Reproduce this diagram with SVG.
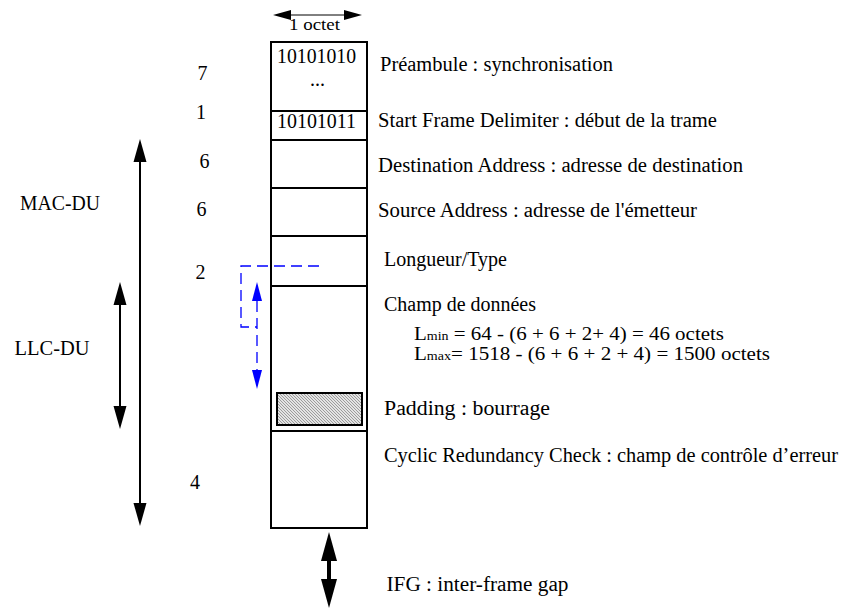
<svg xmlns="http://www.w3.org/2000/svg" width="842" height="608" viewBox="0 0 842 608">
<style>
text{font-family:"Liberation Serif","Times New Roman",serif;font-size:20px;fill:#000}
.formula{font-size:18px}
.sub{font-size:12px}
.small{font-size:16.3px}
.box{fill:#fff;stroke:#000;stroke-width:2}
.sep{stroke:#000;stroke-width:2}
.blk{stroke:#000;stroke-width:2;fill:none}
.blue{stroke:#0000ff;stroke-width:1.3;fill:none;stroke-dasharray:11 6}
</style>
<defs>
<pattern id="hatch" width="3" height="3" patternUnits="userSpaceOnUse">
<rect width="3" height="3" fill="#e4e4e4"/>
<path d="M0,0 L3,3 M-1,2 L1,4 M2,-1 L4,1" stroke="#8a8a8a" stroke-width="0.8"/>
</pattern>
<marker id="mBig" viewBox="0 -7 24 14" refX="0" refY="0" markerWidth="24" markerHeight="14" markerUnits="userSpaceOnUse" orient="auto-start-reverse">
<path d="M0,-6.5 L23,0 L0,6.5 z" fill="#000"/>
</marker>
<marker id="mSmall" viewBox="0 -6 19 12" refX="0" refY="0" markerWidth="19" markerHeight="12" markerUnits="userSpaceOnUse" orient="auto-start-reverse">
<path d="M0,-5 L18,0 L0,5 z" fill="#000"/>
</marker>
<marker id="mIfg" viewBox="0 -9 30 18" refX="0" refY="0" markerWidth="30" markerHeight="18" markerUnits="userSpaceOnUse" orient="auto-start-reverse">
<path d="M0,-8 L29,0 L0,8 z" fill="#000"/>
</marker>
<marker id="mBlue" viewBox="0 -6 20 12" refX="0" refY="0" markerWidth="20" markerHeight="12" markerUnits="userSpaceOnUse" orient="auto-start-reverse">
<path d="M0,-5 L19,0 L0,5 z" fill="#0000ff"/>
</marker>
</defs>
<rect width="842" height="608" fill="#fff"/>

<g id="frame">
<rect class="box" x="271" y="42" width="96" height="486"/>
</g>

<g id="preambule">
<text x="277" y="63" textLength="79" lengthAdjust="spacingAndGlyphs">10101010</text>
<text x="310" y="86" textLength="15" lengthAdjust="spacingAndGlyphs">...</text>
<text x="380" y="71" textLength="233" lengthAdjust="spacingAndGlyphs">Préambule : synchronisation</text>
<text x="197.5" y="80">7</text>
</g>

<g id="sfd">
<line class="sep" x1="271" y1="111" x2="367" y2="111"/>
<text x="277" y="128" textLength="79" lengthAdjust="spacingAndGlyphs">10101011</text>
<text x="378" y="127" textLength="339" lengthAdjust="spacingAndGlyphs">Start Frame Delimiter : début de la trame</text>
<text x="196" y="119">1</text>
</g>

<g id="dest">
<line class="sep" x1="271" y1="140" x2="367" y2="140"/>
<text x="378" y="172" textLength="365" lengthAdjust="spacingAndGlyphs">Destination Address : adresse de destination</text>
<text x="199.5" y="168">6</text>
</g>

<g id="source">
<line class="sep" x1="271" y1="188" x2="367" y2="188"/>
<text x="378" y="216.5" textLength="319" lengthAdjust="spacingAndGlyphs">Source Address : adresse de l'émetteur</text>
<text x="196.5" y="216">6</text>
</g>

<g id="longueur">
<line class="sep" x1="271" y1="236" x2="367" y2="236"/>
<text x="384" y="266" textLength="123" lengthAdjust="spacingAndGlyphs">Longueur/Type</text>
<text x="195.5" y="279">2</text>
</g>

<g id="donnees">
<line class="sep" x1="271" y1="286" x2="367" y2="286"/>
<text x="384" y="311" textLength="152" lengthAdjust="spacingAndGlyphs">Champ de données</text>
<text class="formula" x="414" y="339.5" textLength="310" lengthAdjust="spacingAndGlyphs">L<tspan class="sub">min</tspan> = 64 - (6 + 6 + 2+ 4) = 46 octets</text>
<text class="formula" x="414" y="359.5" textLength="356" lengthAdjust="spacingAndGlyphs">L<tspan class="sub">max</tspan>= 1518 - (6 + 6 + 2 + 4) = 1500 octets</text>
</g>

<g id="padding">
<rect x="277" y="393" width="85" height="32" fill="url(#hatch)" stroke="#000" stroke-width="2"/>
<text x="384" y="415" textLength="166" lengthAdjust="spacingAndGlyphs">Padding : bourrage</text>
</g>

<g id="crc">
<line class="sep" x1="271" y1="431" x2="367" y2="431"/>
<text x="384" y="461.5" textLength="454" lengthAdjust="spacingAndGlyphs">Cyclic Redundancy Check : champ de contrôle d’erreur</text>
<text x="190" y="489">4</text>
</g>

<g id="labels">
<text x="20" y="210" textLength="80" lengthAdjust="spacingAndGlyphs">MAC-DU</text>
<text x="14.5" y="355" textLength="75" lengthAdjust="spacingAndGlyphs">LLC-DU</text>
<text class="small" x="289" y="29.5" textLength="51" lengthAdjust="spacingAndGlyphs">1 octet</text>
<text x="386.5" y="591" textLength="182" lengthAdjust="spacingAndGlyphs">IFG : inter-frame gap</text>
</g>

<g id="connectors">
<line x1="291" y1="15" x2="344" y2="15" stroke="#000" stroke-width="1" marker-start="url(#mSmall)" marker-end="url(#mSmall)"/>
<line class="blk" x1="140" y1="162" x2="140" y2="503" marker-start="url(#mBig)" marker-end="url(#mBig)"/>
<line class="blk" x1="120" y1="305" x2="120" y2="406" marker-start="url(#mBig)" marker-end="url(#mBig)"/>
<line x1="329" y1="561" x2="329" y2="579" stroke="#000" stroke-width="4" marker-start="url(#mIfg)" marker-end="url(#mIfg)"/>
<path class="blue" d="M319,266 L241,266 L241,327 L257,327"/>
<line class="blue" x1="257" y1="301" x2="257" y2="370" marker-start="url(#mBlue)" marker-end="url(#mBlue)"/>
</g>
</svg>
